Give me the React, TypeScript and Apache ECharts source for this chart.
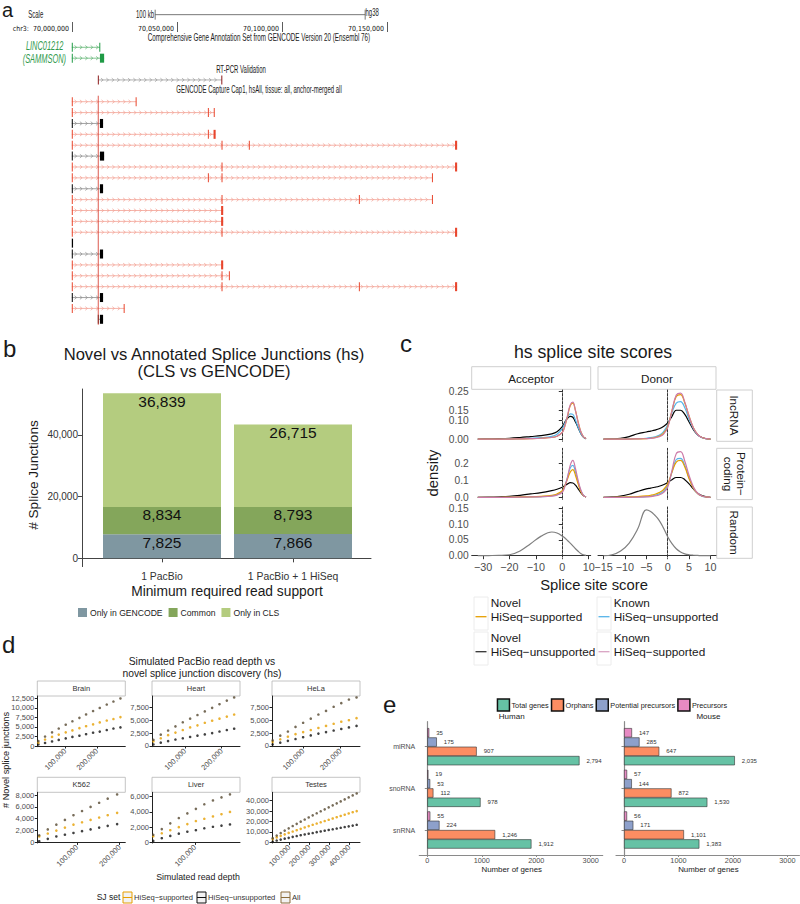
import React, { useEffect, useRef } from "react";
import * as echarts from "echarts";

const FONT = "'Liberation Sans', Arial, Helvetica, sans-serif";
const NARROW = "'Liberation Sans Narrow', 'Arial Narrow', 'DejaVu Sans Condensed', 'Liberation Sans', sans-serif";

/* ---------------- a: genome browser ---------------- */
const rulerTicks = [70000000, 70050000, 70100000, 70150000];
const scaleBar = [[-8, 70039600, 70139600]];
// [row, start, end, kind]  kind: 0 GENCODE gene, 1 RT-PCR, 2 CLS novel, 3 CLS annotated
const trackSpans = [
  [-5, 69999900, 70013300, 0],
  [-4, 69999900, 70015300, 0],
  [-2, 70012500, 70071400, 1],
  [0, 69999900, 70030600, 2],
  [1, 69999900, 70067800, 2],
  [2, 69999900, 70014800, 3],
  [3, 69999900, 70068300, 2],
  [4, 69999900, 70183400, 2],
  [5, 69999900, 70015300, 3],
  [6, 69999900, 70183400, 2],
  [7, 69999900, 70171800, 2],
  [8, 69999900, 70014800, 3],
  [9, 69999900, 70171800, 2],
  [10, 69999900, 70072000, 2],
  [11, 69999900, 70072000, 2],
  [12, 69999900, 70183400, 2],
  [14, 69999900, 70014800, 3],
  [15, 69999900, 70072000, 2],
  [16, 69999900, 70075100, 2],
  [17, 69999900, 70183400, 2],
  [18, 69999900, 70014800, 3],
  [19, 69999900, 70025000, 2],
  [20, 70012400, 70014800, 3],
];
const exonBlocks = [
  [-5, 69999900, 70000300, 0], [-5, 70013000, 70013400, 0],
  [-4, 69999900, 70000300, 0], [-4, 70013300, 70015300, 0],
  [-2, 70012300, 70012700, 1], [-2, 70071100, 70071500, 1],
  [0, 69999900, 70000300, 2], [0, 70030300, 70030700, 2],
  [1, 69999900, 70000300, 2], [1, 70064700, 70065100, 2], [1, 70067500, 70067900, 2],
  [2, 69999900, 70000300, 3], [2, 70013300, 70014800, 3],
  [3, 69999900, 70000300, 2], [3, 70064700, 70065100, 2], [3, 70067400, 70068400, 2],
  [4, 69999900, 70000300, 2], [4, 70071200, 70071600, 2], [4, 70084200, 70084600, 2], [4, 70182400, 70183400, 2],
  [5, 69999900, 70000300, 3], [5, 70013300, 70015300, 3],
  [6, 69999900, 70000300, 2], [6, 70071200, 70071600, 2], [6, 70182400, 70183400, 2],
  [7, 69999900, 70000300, 2], [7, 70064700, 70065100, 2], [7, 70071200, 70071600, 2], [7, 70171400, 70171800, 2],
  [8, 69999900, 70000300, 3], [8, 70013300, 70014800, 3],
  [9, 69999900, 70000300, 2], [9, 70071200, 70071600, 2], [9, 70136600, 70137000, 2], [9, 70171400, 70171800, 2],
  [10, 69999900, 70000300, 2], [10, 70071000, 70072000, 2],
  [11, 69999900, 70000300, 2], [11, 70071000, 70072000, 2],
  [12, 69999900, 70000300, 2], [12, 70071200, 70071600, 2], [12, 70182400, 70183400, 2],
  [13, 69999900, 70000500, 3],
  [14, 69999900, 70000300, 3], [14, 70013300, 70014800, 3],
  [15, 69999900, 70000300, 2], [15, 70071000, 70072000, 2],
  [16, 69999900, 70000300, 2], [16, 70071200, 70071600, 2], [16, 70074700, 70075100, 2],
  [17, 69999900, 70000300, 2], [17, 70071200, 70071600, 2], [17, 70136600, 70137000, 2], [17, 70182400, 70183400, 2],
  [18, 69999900, 70000300, 3], [18, 70013300, 70014800, 3],
  [19, 69999900, 70000300, 2], [19, 70024600, 70025000, 2],
  [20, 70012300, 70012700, 3], [20, 70013300, 70014800, 3],
];
const guideLine = [[70012500, -0.55, 20.5]];

/* ---------------- b: stacked bars ---------------- */
const bCategories = ["1 PacBio", "1 PacBio + 1 HiSeq"];
const bOnlyGencode = [7825, 7866];
const bCommon = [8834, 8793];
const bOnlyCls = [36839, 26715];
const bYTicks = [0, 20000, 40000];

/* ---------------- c: splice site score densities ---------------- */
const cAccX = [-32, -28, -24, -20, -16, -12, -8, -4, -2, 0, 1, 2, 3, 4, 5, 6, 7, 8, 9];
const cDonX = [-15, -13, -11, -9, -7, -5, -4, -3, -2, -1, 0, 1, 2, 3, 4, 5, 6, 7, 8, 9, 10];
const cLncAccNovelUns = [0, 0.001, 0.002, 0.004, 0.008, 0.013, 0.018, 0.027, 0.038, 0.065, 0.09, 0.11, 0.12, 0.115, 0.09, 0.06, 0.03, 0.01, 0.002];
const cLncAccKnownUns = [0, 0, 0, 0.001, 0.002, 0.004, 0.007, 0.014, 0.025, 0.055, 0.085, 0.115, 0.133, 0.13, 0.1, 0.062, 0.03, 0.01, 0.002];
const cLncAccNovelSup = [0, 0, 0, 0, 0.001, 0.002, 0.004, 0.008, 0.015, 0.035, 0.07, 0.12, 0.175, 0.19, 0.15, 0.09, 0.04, 0.012, 0.002];
const cLncAccKnownSup = [0, 0, 0, 0, 0.001, 0.002, 0.004, 0.008, 0.015, 0.035, 0.07, 0.125, 0.18, 0.195, 0.15, 0.088, 0.04, 0.012, 0.002];
const cPcAccNovelUns = [0, 0.001, 0.003, 0.006, 0.012, 0.02, 0.028, 0.04, 0.048, 0.06, 0.07, 0.08, 0.087, 0.085, 0.072, 0.05, 0.028, 0.01, 0.002];
const cPcAccKnownUns = [0, 0, 0, 0, 0.001, 0.002, 0.004, 0.009, 0.016, 0.035, 0.07, 0.12, 0.175, 0.19, 0.15, 0.09, 0.04, 0.012, 0.002];
const cPcAccNovelSup = [0, 0, 0, 0.001, 0.002, 0.003, 0.006, 0.012, 0.02, 0.04, 0.07, 0.11, 0.15, 0.165, 0.13, 0.08, 0.035, 0.01, 0.002];
const cPcAccKnownSup = [0, 0, 0, 0, 0.001, 0.002, 0.003, 0.007, 0.013, 0.03, 0.065, 0.12, 0.19, 0.22, 0.17, 0.1, 0.045, 0.012, 0.002];
const cRandAcc = [0, 0.0005, 0.001, 0.003, 0.015, 0.038, 0.062, 0.075, 0.072, 0.062, 0.056, 0.048, 0.04, 0.031, 0.022, 0.014, 0.007, 0.003, 0.001];
const cLncDonNovelUns = [0, 0.001, 0.004, 0.013, 0.028, 0.037, 0.042, 0.047, 0.054, 0.066, 0.085, 0.12, 0.152, 0.152, 0.13, 0.09, 0.05, 0.022, 0.008, 0.002, 0];
const cLncDonKnownUns = [0, 0, 0, 0.001, 0.002, 0.004, 0.007, 0.012, 0.02, 0.038, 0.075, 0.14, 0.19, 0.198, 0.165, 0.105, 0.055, 0.022, 0.007, 0.002, 0];
const cLncDonNovelSup = [0, 0, 0, 0, 0.001, 0.002, 0.004, 0.008, 0.015, 0.03, 0.065, 0.15, 0.225, 0.235, 0.19, 0.12, 0.06, 0.025, 0.008, 0.002, 0];
const cLncDonKnownSup = [0, 0, 0, 0, 0.001, 0.002, 0.003, 0.006, 0.012, 0.025, 0.06, 0.15, 0.232, 0.242, 0.195, 0.12, 0.06, 0.024, 0.008, 0.002, 0];
const cPcDonNovelUns = [0, 0.002, 0.007, 0.018, 0.035, 0.05, 0.055, 0.06, 0.066, 0.075, 0.088, 0.105, 0.118, 0.118, 0.105, 0.08, 0.05, 0.025, 0.01, 0.003, 0];
const cPcDonKnownUns = [0, 0, 0, 0.001, 0.002, 0.004, 0.007, 0.012, 0.02, 0.035, 0.07, 0.15, 0.225, 0.232, 0.19, 0.115, 0.055, 0.022, 0.007, 0.002, 0];
const cPcDonNovelSup = [0, 0, 0.001, 0.002, 0.004, 0.008, 0.012, 0.018, 0.028, 0.045, 0.08, 0.15, 0.21, 0.22, 0.18, 0.11, 0.055, 0.022, 0.008, 0.002, 0];
const cPcDonKnownSup = [0, 0, 0, 0, 0.001, 0.002, 0.004, 0.008, 0.014, 0.028, 0.06, 0.16, 0.26, 0.272, 0.215, 0.13, 0.062, 0.024, 0.008, 0.002, 0];
const cRandDon = [0, 0.003, 0.015, 0.04, 0.085, 0.145, 0.14, 0.128, 0.112, 0.088, 0.06, 0.038, 0.022, 0.012, 0.006, 0.003, 0.0015, 0.0008, 0, 0, 0];

/* ---------------- d: simulated read depth ---------------- */
const dBrainDepth = [16000, 37000, 59000, 80000, 102000, 123000, 145000, 166000, 188000, 209000, 231000, 252000, 274000];
const dBrainAll = [1300, 2500, 3600, 4600, 5600, 6500, 7400, 8300, 9200, 10000, 10900, 11700, 12500];
const dBrainSup = [900, 1700, 2400, 3000, 3600, 4100, 4700, 5200, 5700, 6200, 6700, 7100, 7600];
const dBrainUns = [400, 800, 1200, 1600, 2000, 2400, 2700, 3100, 3500, 3800, 4200, 4600, 4900];
const dHeartDepth = [14000, 34000, 54000, 74000, 94000, 114000, 134000, 154000, 174000, 194000, 214000, 234000];
const dHeartAll = [1200, 2200, 3000, 3800, 4600, 5300, 6000, 6700, 7400, 8100, 8800, 9400];
const dHeartSup = [900, 1500, 2100, 2600, 3100, 3600, 4000, 4500, 4900, 5300, 5700, 6100];
const dHeartUns = [300, 650, 950, 1250, 1500, 1750, 2000, 2250, 2500, 2800, 3100, 3350];
const dHelaDepth = [18000, 38500, 59000, 79500, 100000, 120500, 141000, 161500, 182000, 202500, 223000, 243500];
const dHelaAll = [1100, 2000, 2800, 3700, 4500, 5300, 6100, 6800, 7600, 8300, 9000, 9400];
const dHelaSup = [800, 1300, 1800, 2300, 2700, 3100, 3500, 3900, 4300, 4700, 5000, 5400];
const dHelaUns = [300, 650, 1000, 1350, 1700, 2050, 2400, 2700, 3000, 3300, 3600, 3900];
const dK562Depth = [12000, 32000, 52000, 72000, 92000, 112000, 132000, 152000, 172000, 194000];
const dK562All = [1200, 2200, 3000, 3800, 4600, 5300, 6000, 6700, 7400, 8100];
const dK562Sup = [1000, 1500, 2000, 2500, 3000, 3400, 3800, 4200, 4600, 5000];
const dK562Uns = [200, 600, 1000, 1300, 1600, 1900, 2200, 2500, 2800, 3100];
const dLiverDepth = [10500, 28800, 47000, 65300, 83600, 101900, 120000, 138500, 156800, 175000];
const dLiverAll = [1000, 1750, 2500, 3200, 3800, 4400, 5000, 5500, 5900, 6300];
const dLiverSup = [800, 1200, 1600, 2000, 2400, 2800, 3100, 3400, 3700, 4000];
const dLiverUns = [200, 550, 850, 1150, 1400, 1600, 1850, 2050, 2200, 2350];
const dTestesDepth = [17000, 37000, 57000, 77000, 97000, 117000, 137000, 157000, 177000, 197000, 217000, 237000, 257000, 277000, 297000, 317000, 337000, 357000, 377000, 397000, 417000, 437000];
const dTestesAll = [4000, 6600, 9000, 11300, 13500, 15700, 17800, 19900, 21900, 23900, 25900, 27900, 29800, 31700, 33600, 35500, 37400, 39300, 41200, 43100, 45000, 46900];
const dTestesSup = [3200, 4800, 6300, 7700, 9100, 10400, 11700, 13000, 14300, 15600, 16900, 18100, 19300, 20500, 21700, 22900, 24100, 25300, 26500, 27700, 28900, 30000];
const dTestesUns = [800, 1800, 2700, 3600, 4400, 5300, 6100, 6900, 7600, 8300, 9000, 9800, 10500, 11200, 11900, 12600, 13300, 14000, 14700, 15400, 16100, 16900];

/* ---------------- e: small RNA bars ---------------- */
const eCategories = ["miRNA", "snoRNA", "snRNA"];
const eHumanTotal = [2794, 978, 1912];
const eHumanOrphans = [907, 112, 1246];
const eHumanPotential = [175, 53, 224];
const eHumanPrecursors = [35, 19, 55];
const eMouseTotal = [2035, 1530, 1383];
const eMouseOrphans = [647, 872, 1101];
const eMousePotential = [285, 144, 171];
const eMousePrecursors = [147, 57, 56];
const eXTicks = [0, 1000, 2000, 3000];

const fmt = (v: number) => Number(v).toLocaleString("en-US");
const minusFmt = (v: number) => (v < 0 ? "\u2212" : "") + Math.abs(v);

function T(text: string, x: number, y: number, size: number, o: any = {}) {
  const style: any = {
    text, fontSize: size, fontFamily: o.family || FONT,
    fontStyle: o.italic ? "italic" : "normal",
    fill: o.fill || "#1a1a1a",
    textAlign: o.align || "center",
    textVerticalAlign: o.va || "middle",
  };
  if (o.lh) style.lineHeight = o.lh;
  return { type: "text", x, y, rotation: o.rot || 0, scaleX: o.sx || 1, silent: true, style };
}

function buildOption() {
  const grid: any[] = [], xAxis: any[] = [], yAxis: any[] = [], series: any[] = [], els: any[] = [];
  const add = (g: any, x: any, y: any) => {
    const i = grid.length;
    grid.push({ containLabel: false, ...g });
    xAxis.push({ gridIndex: i, splitLine: { show: false }, ...x });
    yAxis.push({ gridIndex: i, splitLine: { show: false }, ...y });
    return i;
  };

  /* ======== a ======== */
  const gA = add({ left: 72, top: 3.78, width: 420, height: 326.4 },
    { type: "value", min: 70000000, max: 70200000, show: false },
    { type: "value", min: -9, max: 21, inverse: true, show: false });
  add({ left: 72, top: 22, width: 420, height: 10 },
    {
      type: "value", min: 70000000, max: 70200000, position: "bottom",
      axisLine: { show: false },
      axisTick: { show: true, inside: true, length: 10, customValues: rulerTicks, lineStyle: { color: "#333", width: 0.8 } },
      axisLabel: {
        show: true, inside: true, margin: 0, customValues: rulerTicks, align: "right", padding: [0, 3, 0, 0],
        fontSize: 7, fontFamily: NARROW, color: "#111111", showMinLabel: true, showMaxLabel: true,
        formatter: (v: number) => (v === rulerTicks[0] ? "chr3:  " : "") + fmt(v),
      },
    },
    { type: "value", min: 0, max: 1, show: false });

  const lineCol = ["#62b574", "#9a9a9a", "#f3a194", "#8c8c8c"];
  const exonCol = ["#1f9a45", "#8b1a1a", "#e8462d", "#000000"];
  series.push({
    type: "custom", xAxisIndex: gA, yAxisIndex: gA, data: scaleBar, encode: { x: [1, 2], y: 0 }, silent: true,
    renderItem: (p: any, api: any) => {
      const a = api.coord([api.value(1), api.value(0)]);
      const b = api.coord([api.value(2), api.value(0)]);
      const st = { stroke: "#555", lineWidth: 0.8 };
      return {
        type: "group", children: [
          { type: "line", shape: { x1: a[0], y1: a[1], x2: b[0], y2: b[1] }, style: st },
          { type: "line", shape: { x1: a[0], y1: a[1] - 5, x2: a[0], y2: a[1] + 5 }, style: st },
          { type: "line", shape: { x1: b[0], y1: b[1] - 5, x2: b[0], y2: b[1] + 5 }, style: st },
        ],
      };
    },
  });
  series.push({
    type: "custom", xAxisIndex: gA, yAxisIndex: gA, data: trackSpans, encode: { x: [1, 2], y: 0 }, silent: true, z: 2,
    renderItem: (p: any, api: any) => {
      const row = api.value(0), kind = api.value(3);
      const a = api.coord([api.value(1), row]);
      const b = api.coord([api.value(2), row]);
      const y = a[1];
      const col = lineCol[kind];
      let d = "";
      for (let x = a[0] + 4; x < b[0] - 2; x += 5.4) {
        d += `M${(x - 1.3).toFixed(2)} ${(y - 1.8).toFixed(2)}L${(x + 0.9).toFixed(2)} ${y.toFixed(2)}L${(x - 1.3).toFixed(2)} ${(y + 1.8).toFixed(2)}`;
      }
      const children: any[] = [{ type: "line", shape: { x1: a[0], y1: y, x2: b[0], y2: y }, style: { stroke: col, lineWidth: 0.8 } }];
      if (d) children.push({ type: "path", shape: { pathData: d }, style: { stroke: col, fill: "none", lineWidth: 0.7 } });
      return { type: "group", children };
    },
  });
  series.push({
    type: "custom", xAxisIndex: gA, yAxisIndex: gA, data: exonBlocks, encode: { x: [1, 2], y: 0 }, silent: true, z: 3,
    renderItem: (p: any, api: any) => {
      const row = api.value(0), kind = api.value(3);
      const a = api.coord([api.value(1), row]);
      const b = api.coord([api.value(2), row]);
      return { type: "rect", shape: { x: a[0], y: a[1] - 4.5, width: Math.max(1, b[0] - a[0]), height: 9 }, style: { fill: exonCol[kind] } };
    },
  });
  series.push({
    type: "custom", xAxisIndex: gA, yAxisIndex: gA, data: guideLine, encode: { x: 0, y: [1, 2] }, silent: true, z: 4,
    renderItem: (p: any, api: any) => {
      const a = api.coord([api.value(0), api.value(1)]);
      const b = api.coord([api.value(0), api.value(2)]);
      return { type: "line", shape: { x1: a[0], y1: a[1], x2: b[0], y2: b[1] }, style: { stroke: "#d8463a", lineWidth: 0.9 } };
    },
  });
  const sx = 0.6;
  els.push(T("Scale", 28.3, 15, 10, { align: "left", sx }));
  els.push(T("100 kb", 154, 15, 10, { align: "right", sx }));
  els.push(T("hg38", 365.5, 13, 10, { align: "left", sx }));
  els.push(T("Comprehensive Gene Annotation Set from GENCODE Version 20 (Ensembl 76)", 259, 37.3, 10, { sx: 0.63 }));
  els.push(T("LINC01212", 63.5, 46, 12, { align: "right", sx: 0.62, italic: true, fill: "#2f9a4c" }));
  els.push(T("(SAMMSON)", 66, 59, 12, { align: "right", sx: 0.62, italic: true, fill: "#2f9a4c" }));
  els.push(T("RT-PCR Validation", 241, 70, 10, { sx }));
  els.push(T("GENCODE Capture Cap1, hsAll, tissue: all, anchor-merged all", 259, 90, 10, { sx }));

  /* ======== b ======== */
  const axB = "#444";
  add({ left: 82, top: 389, width: 289, height: 177.6 },
    { type: "value", min: 0, max: 1, axisLine: { show: true, lineStyle: { color: axB, width: 1 } }, axisTick: { show: false }, axisLabel: { show: false } },
    {
      type: "value", min: -2675, max: 54900,
      axisLine: { show: true, lineStyle: { color: axB, width: 1 } },
      axisTick: { show: true, customValues: bYTicks, length: 4, lineStyle: { color: axB } },
      axisLabel: { customValues: bYTicks, formatter: fmt, fontSize: 10, color: "#333", margin: 4, showMinLabel: true, showMaxLabel: true },
    });
  const gB = add({ left: 96.5, top: 389, width: 262, height: 177.6 },
    {
      type: "category", data: bCategories,
      axisLine: { show: false },
      axisTick: { show: true, alignWithLabel: true, length: 4, lineStyle: { color: axB } },
      axisLabel: { fontSize: 10.4, color: "#333", margin: 5 },
    },
    { type: "value", min: -2675, max: 54900, show: false });
  const bSeries = [
    { name: "Only in GENCODE", vals: bOnlyGencode, color: "#7f97a1" },
    { name: "Common", vals: bCommon, color: "#84a65b" },
    { name: "Only in CLS", vals: bOnlyCls, color: "#b4cc7f" },
  ];
  bSeries.forEach((s) => {
    series.push({
      type: "bar", name: s.name, xAxisIndex: gB, yAxisIndex: gB, stack: "b", barWidth: 118,
      data: s.vals,
      itemStyle: { color: s.color },
      label: { show: true, position: "insideTop", distance: 0, fontSize: 15.5, color: "#111", formatter: (p: any) => fmt(p.value) },
    });
  });
  els.push(T("Novel vs Annotated Splice Junctions (hs)", 214, 354, 16.6));
  els.push(T("(CLS vs GENCODE)", 214, 371.7, 16.6));
  els.push(T("# Splice Junctions", 33, 475, 13.6, { rot: Math.PI / 2 }));
  els.push(T("Minimum required read support", 227, 591.7, 13.8));

  /* ======== c ======== */
  const cColLeft = [471.7, 598], cColW = [119, 118];
  const cRowTop = [390, 448.3, 507], cRowH = 51.3;
  const cXR = [[-34.3, 10.76], [-16.29, 11.29]];
  const cYR = [[-0.012, 0.259], [-0.0137, 0.2917], [-0.0082, 0.1541]];
  const cYT = [[0, 0.05, 0.1, 0.15, 0.2, 0.25], [0, 0.1, 0.2], [0, 0.05, 0.1, 0.15]];
  const cYD = [2, 1, 2];
  const cXT = [[-30, -20, -10, 0, 10], [-15, -10, -5, 0, 5, 10]];
  const cColors = { nu: "#000000", ku: "#56B4E9", ns: "#E69F00", ks: "#CC79A7" };
  const cData: any = {
    "0-0": [[cLncAccNovelUns, "nu"], [cLncAccKnownUns, "ku"], [cLncAccNovelSup, "ns"], [cLncAccKnownSup, "ks"]],
    "0-1": [[cLncDonNovelUns, "nu"], [cLncDonKnownUns, "ku"], [cLncDonNovelSup, "ns"], [cLncDonKnownSup, "ks"]],
    "1-0": [[cPcAccNovelUns, "nu"], [cPcAccKnownUns, "ku"], [cPcAccNovelSup, "ns"], [cPcAccKnownSup, "ks"]],
    "1-1": [[cPcDonNovelUns, "nu"], [cPcDonKnownUns, "ku"], [cPcDonNovelSup, "ns"], [cPcDonKnownSup, "ks"]],
    "2-0": [[cRandAcc, "rand"]],
    "2-1": [[cRandDon, "rand"]],
  };
  const axC = "#333";
  for (let r = 0; r < 3; r++) {
    for (let c = 0; c < 2; c++) {
      const gi = add({ left: cColLeft[c], top: cRowTop[r], width: cColW[c], height: cRowH },
        {
          type: "value", min: cXR[c][0], max: cXR[c][1],
          axisLine: { show: r === 2, lineStyle: { color: axC, width: 1 } },
          axisTick: { show: r === 2, customValues: cXT[c], length: 3.5, lineStyle: { color: axC } },
          axisLabel: { show: r === 2, customValues: cXT[c], formatter: minusFmt, fontSize: 10.8, color: "#4d4d4d", margin: 3, showMinLabel: true, showMaxLabel: true },
        },
        {
          type: "value", min: cYR[r][0], max: cYR[r][1],
          axisLine: { show: true, lineStyle: { color: axC, width: 1 } },
          axisTick: { show: c === 0, customValues: cYT[r], length: 3.5, lineStyle: { color: axC } },
          axisLabel: { show: c === 0, customValues: cYT[r], formatter: (v: number) => v.toFixed(cYD[r]), fontSize: 10.2, lineHeight: 9.4, color: "#4d4d4d", margin: 3, showMinLabel: true, showMaxLabel: true, hideOverlap: false },
        });
      const xs = c === 0 ? cAccX : cDonX;
      cData[`${r}-${c}`].forEach((item: any, k: number) => {
        const [ys, key] = item;
        const color = key === "rand" ? "#7f7f7f" : (cColors as any)[key];
        const s: any = {
          type: "line", xAxisIndex: gi, yAxisIndex: gi, smooth: 0.4, symbol: "none", silent: true,
          data: xs.map((x: number, i: number) => [x, ys[i]]),
          lineStyle: { color, width: 1.2 }, itemStyle: { color }, z: 3 + k,
        };
        if (k === 0) {
          s.markLine = {
            silent: true, symbol: ["none", "none"], label: { show: false }, animation: false,
            lineStyle: { type: [1.2, 2.8], color: "#999999", width: 1 }, emphasis: { disabled: true },
            data: [{ xAxis: 0 }],
          };
        }
        series.push(s);
      });
    }
  }
  els.push(T("hs splice site scores", 593, 352, 17.7));
  const stripStyle = { fill: "#fff", stroke: "#cfcfcf", lineWidth: 1 };
  els.push({ type: "rect", shape: { x: 471.7, y: 366.7, width: 119, height: 22.6 }, style: stripStyle, silent: true });
  els.push({ type: "rect", shape: { x: 598, y: 366.7, width: 118, height: 22.6 }, style: stripStyle, silent: true });
  els.push(T("Acceptor", 531.2, 378, 11.7));
  els.push(T("Donor", 657, 378, 11.7));
  const rStrip = [["lncRNA", 390], ["Protein\u2212\ncoding", 448.3], ["Random", 507]];
  rStrip.forEach(([label, top]: any) => {
    els.push({ type: "rect", shape: { x: 716.7, y: top, width: 35.6, height: cRowH }, style: stripStyle, silent: true });
    els.push(T(label, 734.5, top + cRowH / 2, 11.7, { rot: -Math.PI / 2, lh: 13 }));
  });
  els.push(T("density", 433, 473, 14.8, { rot: Math.PI / 2 }));
  els.push(T("Splice site score", 594, 585, 14.8));
  const cLeg = [
    { x: 474, y: 597, color: "#E69F00", l1: "Novel", l2: "HiSeq\u2212supported" },
    { x: 474, y: 632, color: "#333333", l1: "Novel", l2: "HiSeq\u2212unsupported" },
    { x: 597, y: 597, color: "#56B4E9", l1: "Known", l2: "HiSeq\u2212unsupported" },
    { x: 597, y: 632, color: "#d9a3c2", l1: "Known", l2: "HiSeq\u2212supported" },
  ];
  cLeg.forEach((e) => {
    els.push({ type: "rect", shape: { x: e.x, y: e.y, width: 14, height: 33 }, style: { fill: "#fff", stroke: "#ececec", lineWidth: 1 }, silent: true });
    els.push({ type: "line", shape: { x1: e.x + 1.5, y1: e.y + 19.7, x2: e.x + 12.5, y2: e.y + 19.7 }, style: { stroke: e.color, lineWidth: 1.3 }, silent: true });
    els.push(T(e.l1 + "\n" + e.l2, e.x + 16.7, e.y + 13.1, 11.8, { align: "left", lh: 13.3 }));
  });

  /* ======== d ======== */
  const dPanels = [
    { name: "Brain", c: 0, r: 0, depth: dBrainDepth, all: dBrainAll, sup: dBrainSup, uns: dBrainUns, xr: [12600, 289300], yr: [-180, 13150], xt: [100000, 200000], yt: [0, 2500, 5000, 7500, 10000, 12500] },
    { name: "Heart", c: 1, r: 0, depth: dHeartDepth, all: dHeartAll, sup: dHeartSup, uns: dHeartUns, xr: [10100, 249900], yr: [-136, 9690], xt: [100000, 200000], yt: [0, 2500, 5000, 7500] },
    { name: "HeLa", c: 2, r: 0, depth: dHelaDepth, all: dHelaAll, sup: dHelaSup, uns: dHelaUns, xr: [16300, 252800], yr: [-136, 9690], xt: [100000, 200000], yt: [0, 2500, 5000, 7500] },
    { name: "K562", c: 0, r: 1, depth: dK562Depth, all: dK562All, sup: dK562Sup, uns: dK562Uns, xr: [7500, 213100], yr: [-100, 8470], xt: [100000, 200000], yt: [0, 2000, 4000, 6000, 8000] },
    { name: "Liver", c: 1, r: 1, depth: dLiverDepth, all: dLiverAll, sup: dLiverSup, uns: dLiverUns, xr: [7800, 196500], yr: [-78, 6572], xt: [100000], yt: [0, 2000, 4000, 6000] },
    { name: "Testes", c: 2, r: 1, depth: dTestesDepth, all: dTestesAll, sup: dTestesSup, uns: dTestesUns, xr: [13500, 453500], yr: [-570, 48000], xt: [100000, 200000, 300000, 400000], yt: [0, 10000, 20000, 30000, 40000] },
  ];
  const dColLeft = [37.3, 152, 272], dW = 88;
  const dRowTop = [696, 792.3], dH = 50.7, dStripH = 15;
  const axD = "#222";
  dPanels.forEach((p) => {
    const gi = add({ left: dColLeft[p.c], top: dRowTop[p.r], width: dW, height: dH },
      {
        type: "value", min: p.xr[0], max: p.xr[1],
        axisLine: { show: true, lineStyle: { color: axD, width: 1 } },
        axisTick: { show: true, customValues: p.xt, length: 2.5, lineStyle: { color: axD } },
        axisLabel: { customValues: p.xt, formatter: fmt, rotate: 45, fontSize: 7.5, color: "#4d4d4d", margin: 3, showMinLabel: true, showMaxLabel: true },
      },
      {
        type: "value", min: p.yr[0], max: p.yr[1],
        axisLine: { show: true, lineStyle: { color: axD, width: 1 } },
        axisTick: { show: true, customValues: p.yt, length: 2.5, lineStyle: { color: axD } },
        axisLabel: { customValues: p.yt, formatter: fmt, fontSize: 7.5, color: "#4d4d4d", margin: 3, showMinLabel: true, showMaxLabel: true },
      });
    const sets: any[] = [[p.uns, "#111111"], [p.sup, "#E69F00"], [p.all, "#55472f"]];
    sets.forEach(([vals, color]) => {
      series.push({
        type: "scatter", xAxisIndex: gi, yAxisIndex: gi, symbol: "circle", symbolSize: 2.6, silent: true,
        data: p.depth.map((x: number, i: number) => [x, vals[i]]),
        itemStyle: { color },
      });
    });
    const sy = dRowTop[p.r] - dStripH;
    els.push({ type: "rect", shape: { x: dColLeft[p.c], y: sy, width: dW, height: dStripH }, style: { fill: "#fff", stroke: "#b5b5b5", lineWidth: 0.8 }, silent: true });
    els.push(T(p.name, dColLeft[p.c] + dW / 2, sy + dStripH / 2, 7.5, { fill: "#333" }));
  });
  els.push(T("Simulated PacBio read depth vs", 202, 661.7, 10.3));
  els.push(T("novel splice junction discovery (hs)", 202, 673.3, 10.3));
  els.push(T("# Novel splice junctions", 5.5, 760, 9.2, { rot: Math.PI / 2 }));
  els.push(T("Simulated read depth", 198, 876.7, 8.8));
  els.push(T("SJ set", 96.7, 897.3, 8.5, { align: "left" }));
  const dKeys = [
    { x: 123, color: "#E69F00", label: "HiSeq\u2212supported" },
    { x: 197, color: "#111111", label: "HiSeq\u2212unsupported" },
    { x: 281, color: "#8b6d3c", label: "All" },
  ];
  dKeys.forEach((k) => {
    els.push({ type: "rect", shape: { x: k.x, y: 892, width: 9, height: 11 }, style: { fill: "#f2f2f2", stroke: k.color, lineWidth: 1 }, silent: true });
    els.push({ type: "line", shape: { x1: k.x, y1: 897.5, x2: k.x + 9, y2: 897.5 }, style: { stroke: k.color, lineWidth: 1 }, silent: true });
    els.push(T(k.label, k.x + 11, 897.5, 7.6, { align: "left", fill: "#333" }));
  });

  /* ======== e ======== */
  const eColors = { total: "#66c2a5", orph: "#fc8d62", pot: "#8da0cb", prec: "#e78ac3" };
  const eLeft = [419.3, 616], eW = 183.4, eTop = 721.7, eH = 133.3, eBand = 41.66;
  const eSets = [
    { lab: "Human", total: eHumanTotal, orph: eHumanOrphans, pot: eHumanPotential, prec: eHumanPrecursors },
    { lab: "Mouse", total: eMouseTotal, orph: eMouseOrphans, pot: eMousePotential, prec: eMousePrecursors },
  ];
  const axE = "#8a8a8a";
  eSets.forEach((s, k) => {
    add({ left: eLeft[k], top: eTop, width: eW, height: eH },
      {
        type: "value", min: -147, max: 3220,
        axisLine: { show: true, lineStyle: { color: axE, width: 1.2 } },
        axisTick: { show: true, customValues: eXTicks, length: 2, lineStyle: { color: axE } },
        axisLabel: { customValues: eXTicks, formatter: (v: number) => String(v), fontSize: 7.3, lineHeight: 8, color: "#4d4d4d", margin: 1.5, showMinLabel: true, showMaxLabel: true },
      },
      { type: "value", min: 0, max: 1, axisLine: { show: true, lineStyle: { color: axE, width: 1.2 } }, axisTick: { show: false }, axisLabel: { show: false } });
    const gi = add({ left: eLeft[k], top: eTop + eBand * 0.1, width: eW, height: eBand * 3 },
      { type: "value", min: -147, max: 3220, show: false },
      {
        type: "category", data: eCategories, inverse: true,
        axisLine: { show: false },
        axisTick: { show: true, alignWithLabel: true, length: 2.5, lineStyle: { color: axE } },
        axisLabel: { show: k === 0, fontSize: 7, color: "#4d4d4d", margin: 4 },
      });
    const order: any[] = [["Precursors", s.prec, eColors.prec], ["Potential precursors", s.pot, eColors.pot], ["Orphans", s.orph, eColors.orph], ["Total genes", s.total, eColors.total]];
    order.forEach(([name, vals, color]) => {
      series.push({
        type: "bar", name, xAxisIndex: gi, yAxisIndex: gi, barWidth: 9.3, barGap: "0%", data: vals,
        itemStyle: { color, borderColor: "#333", borderWidth: 0.6 },
        label: { show: true, position: "right", distance: 7, fontSize: 6, color: "#333", formatter: (p: any) => fmt(p.value) },
      });
    });
    els.push(T(s.lab, eLeft[k] + eW / 2 + 0.7, 716.7, 8));
    els.push(T("Number of genes", eLeft[k] + eW / 2 + 0.7, 869.6, 7.9));
  });

  /* panel letters */
  els.push(T("a", 2, 10, 20, { align: "left" }));
  els.push(T("b", 3, 348.3, 24, { align: "left" }));
  els.push(T("c", 400, 343.8, 24, { align: "left" }));
  els.push(T("d", 2, 644.3, 24, { align: "left" }));
  els.push(T("e", 383, 704.3, 24, { align: "left" }));

  return {
    animation: false,
    backgroundColor: "#ffffff",
    textStyle: { fontFamily: FONT },
    grid, xAxis, yAxis, series,
    legend: [
      {
        data: ["Only in GENCODE", "Common", "Only in CLS"], left: 73, top: 603, icon: "rect",
        itemWidth: 9, itemHeight: 9, itemGap: 6, selectedMode: false,
        textStyle: { fontSize: 8.6, color: "#222", padding: [0, 0, 0, -2] },
      },
      {
        data: ["Total genes", "Orphans", "Potential precursors", "Precursors"], left: 491.7, top: 693.3, icon: "rect",
        itemWidth: 12, itemHeight: 12, itemGap: 2, selectedMode: false,
        itemStyle: { borderColor: "#111", borderWidth: 1.5 },
        textStyle: { fontSize: 7.3, color: "#222", padding: [0, 0, 0, -3] },
      },
    ],
    graphic: { elements: els },
  };
}

export default function App() {
  const ref = useRef<HTMLDivElement>(null);
  useEffect(() => {
    const chart = echarts.init(ref.current as HTMLDivElement, undefined, { renderer: "svg", width: 800, height: 904 });
    chart.setOption(buildOption() as any);
    return () => chart.dispose();
  }, []);
  return <div ref={ref} style={{ position: "absolute", left: 0, top: 0, width: 800, height: 904, background: "#fff" }} />;
}
